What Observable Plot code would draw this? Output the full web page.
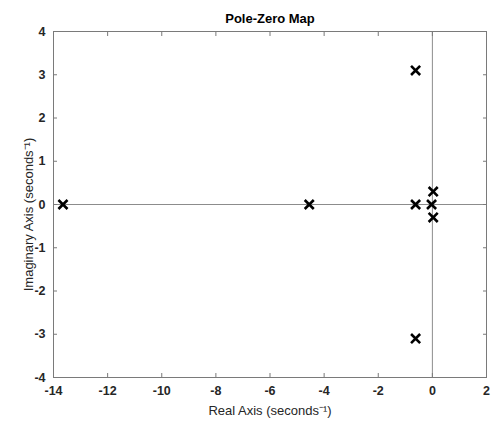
<!DOCTYPE html>
<html>
<head>
<meta charset="utf-8">
<script src="https://cdn.jsdelivr.net/npm/d3@7"></script>
<script src="https://cdn.jsdelivr.net/npm/@observablehq/plot@0.6"></script>
<style>
  html, body { margin: 0; padding: 0; background: #fff; }
  svg { font-family: "Liberation Sans", Arial, sans-serif; }
</style>
</head>
<body>
<div id="chart"></div>
<script>
// Pole locations
const realParts = [-13.65, -4.55, -0.62, -0.62, -0.62, -0.03, 0.03, 0.03];
const imagParts = [0, 0, 3.1, -3.1, 0, 0, 0.3, -0.3];
const xTicks = [-14, -12, -10, -8, -6, -4, -2, 0, 2];
const yTicks = [-4, -3, -2, -1, 0, 1, 2, 3, 4];
const titleText = "Pole-Zero Map";
const xLabel = "Real Axis (seconds\u207B\u00B9)";
const yLabel = "Imaginary Axis (seconds\u207B\u00B9)";

const poles = realParts.map((re, i) => ({re, im: imagParts[i]}));

const frameColor = "#7a7a7a";
const tickLen = 4;

const chart = Plot.plot({
  width: 494,
  height: 423,
  marginLeft: 53,
  marginRight: 8,
  marginTop: 31,
  marginBottom: 46,
  style: {fontFamily: "Liberation Sans, Arial, sans-serif", background: "#fff"},
  x: {domain: [-14, 2]},
  y: {domain: [-4, 4]},
  marks: [
    Plot.ruleY([0], {stroke: "#8c8c8c", strokeWidth: 1}),
    Plot.ruleX([0], {stroke: "#8c8c8c", strokeWidth: 1}),
    Plot.frame({stroke: frameColor, strokeWidth: 1}),
    // inward ticks on all sides (shifted inside the frame)
    Plot.axisX({anchor: "bottom", ticks: xTicks, tickSize: tickLen, dy: -tickLen, tickFormat: () => "", stroke: frameColor, label: null}),
    Plot.axisX({anchor: "top", ticks: xTicks, tickSize: tickLen, dy: tickLen, tickFormat: () => "", stroke: frameColor, label: null}),
    Plot.axisY({anchor: "left", ticks: yTicks, tickSize: tickLen, dx: tickLen, tickFormat: () => "", stroke: frameColor, label: null}),
    Plot.axisY({anchor: "right", ticks: yTicks, tickSize: tickLen, dx: -tickLen, tickFormat: () => "", stroke: frameColor, label: null}),
    // tick labels
    Plot.axisX({anchor: "bottom", ticks: xTicks, tickSize: 0, tickPadding: 9, tickFormat: d => `${d}`, fontSize: 12.5, fontWeight: "bold", fill: "#262626", label: null}),
    Plot.axisY({anchor: "left", ticks: yTicks, tickSize: 0, tickPadding: 8, tickFormat: d => `${d}`, fontSize: 12.5, fontWeight: "bold", fill: "#262626", label: null}),
    // poles
    Plot.dot(poles, {x: "re", y: "im", symbol: "times", r: 4.2, stroke: "black", strokeWidth: 2.6}),
    // title and axis labels
    Plot.text([titleText], {frameAnchor: "top", dy: -13, fontSize: 13, fontWeight: "bold", fill: "#000", lineAnchor: "middle"}),
    Plot.text([xLabel], {frameAnchor: "bottom", dy: 33, fontSize: 13, fill: "#262626", lineAnchor: "middle"}),
    Plot.text([yLabel], {frameAnchor: "left", dx: -25, dy: 10, rotate: -90, textAnchor: "middle", fontSize: 13, fill: "#262626", lineAnchor: "middle"})
  ]
});
document.getElementById("chart").appendChild(chart);
</script>
</body>
</html>
